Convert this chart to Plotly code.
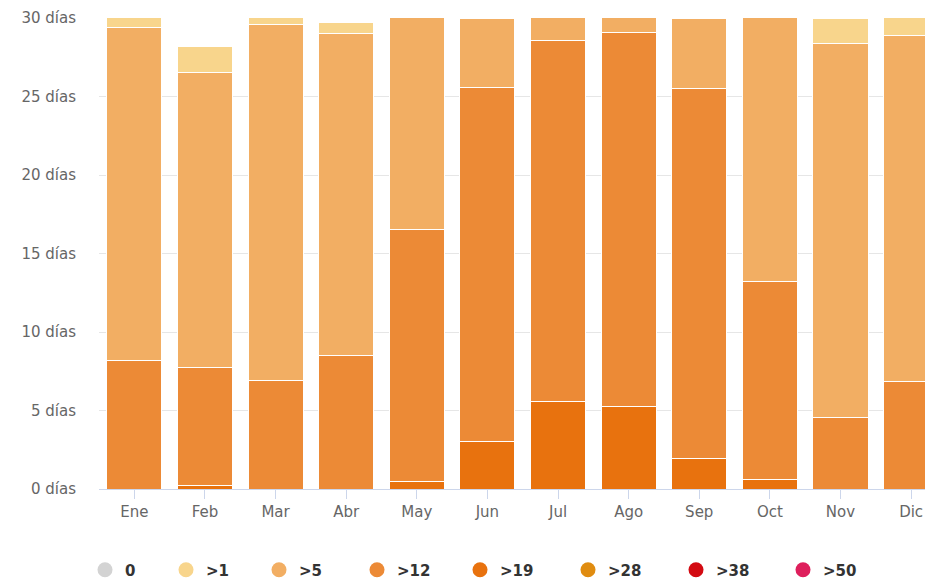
import plotly.graph_objects as go

months = ["Ene", "Feb", "Mar", "Abr", "May", "Jun", "Jul", "Ago", "Sep", "Oct", "Nov", "Dic"]

# days per month in each temperature class (stacked bottom -> top: >19, >12, >5, >1)
d_gt19 = [0, 0.2, 0, 0, 0.45, 3.0, 5.55, 5.25, 1.95, 0.6, 0, 0]
d_gt12 = [8.2, 7.55, 6.9, 8.5, 16.05, 22.6, 23.0, 23.8, 23.55, 12.6, 4.57, 6.85]
d_gt5 = [21.2, 18.75, 22.7, 20.5, 14.5, 4.4, 2.45, 1.95, 4.5, 17.8, 23.8, 22.05]
d_gt1 = [1.6, 1.7, 1.4, 0.7, 0, 0, 0, 0, 0, 0, 1.6, 2.1]

legend_names = ["0", ">1", ">5", ">12", ">19", ">28", ">38", ">50"]
legend_colors = ["#D3D3D3", "#F8D58C", "#F2AE63", "#EC8A36", "#E8720E", "#E08C10", "#D30A12", "#DE1F5C"]

y_ticks = [0, 5, 10, 15, 20, 25, 30]
y_labels = [f"{v} días" for v in y_ticks]

color_of = dict(zip(legend_names, legend_colors))

# page is offset by the 8px body margin
W, H = 925, 577
legend_circle_px = [105, 186, 279, 377, 480, 588, 696, 803]  # layout positions (page px)

fig = go.Figure()

for name, vals in [(">19", d_gt19), (">12", d_gt12), (">5", d_gt5), (">1", d_gt1)]:
    fig.add_trace(go.Bar(
        x=months, y=vals, name=name, legendgroup=name, showlegend=False,
        marker=dict(color=color_of[name], line=dict(color="#FFFFFF", width=1)),
    ))

layout_legends = {}
for i, (name, col) in enumerate(zip(legend_names, legend_colors)):
    key = "legend" if i == 0 else f"legend{i + 1}"
    fig.add_trace(go.Scatter(
        x=[None], y=[None], mode="markers", name=name, legendgroup=name,
        legend=key, marker=dict(color=col, size=15, symbol="circle"),
    ))
    layout_legends[key] = dict(
        orientation="h", xref="container", yref="container",
        x=(legend_circle_px[i] - 8 - 20) / W, y=1 - (570 - 8) / H,
        xanchor="left", yanchor="middle", bgcolor="rgba(0,0,0,0)",
        font=dict(size=15, color="#333333", family="DejaVu Sans", weight="bold"),
        itemsizing="trace",
    )

fig.update_layout(
    width=W, height=H,
    barmode="stack", bargap=0.22,
    plot_bgcolor="#FFFFFF", paper_bgcolor="#FFFFFF",
    margin=dict(l=91, r=0, t=10, b=H - 481),
    font=dict(family="DejaVu Sans", size=15, color="#666666"),
    showlegend=True,
    xaxis=dict(
        type="category", range=[-0.5, 11.31], showgrid=False,
        showline=True, linecolor="#CCD6EB", linewidth=1,
        ticks="outside", ticklen=9, tickcolor="#CCD6EB",
        tickfont=dict(size=15, color="#666666"),
    ),
    yaxis=dict(
        range=[0, 30], tickvals=y_ticks, ticktext=y_labels,
        showgrid=True, gridcolor="#E6E6E6", zeroline=False,
        ticklabelstandoff=22, tickfont=dict(size=15, color="#666666"),
    ),
    **layout_legends,
)

fig.write_html("out.html")
